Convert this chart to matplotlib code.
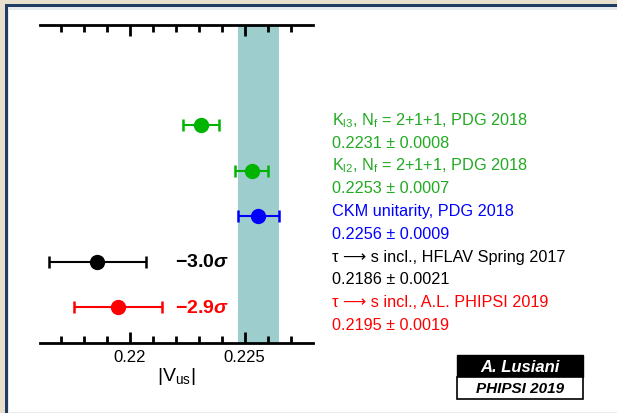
import matplotlib.pyplot as plt
import matplotlib.patches as mpatches
from matplotlib.ticker import MultipleLocator
from matplotlib.transforms import blended_transform_factory

plt.rcParams['mathtext.fontset'] = 'custom'
plt.rcParams['mathtext.rm'] = 'Liberation Sans'
plt.rcParams['mathtext.it'] = 'Liberation Sans:italic'
plt.rcParams['mathtext.bf'] = 'Liberation Sans:bold'
plt.rcParams['mathtext.bfit'] = 'Liberation Sans:bold:italic'
plt.rcParams['font.family'] = ['Liberation Sans', 'DejaVu Sans']

# measurements of |Vus|, top to bottom
names = [r'K$_{\mathrm{l3}}$, N$_{\mathrm{f}}$ = 2+1+1, PDG 2018',
         r'K$_{\mathrm{l2}}$, N$_{\mathrm{f}}$ = 2+1+1, PDG 2018',
         'CKM unitarity, PDG 2018',
         'τ ⟶ s incl., HFLAV Spring 2017',
         'τ ⟶ s incl., A.L. PHIPSI 2019']
values = [0.2231, 0.2253, 0.2256, 0.2186, 0.2195]
errors = [0.0008, 0.0007, 0.0009, 0.0021, 0.0019]
colors = ['#00b400', '#00b400', '#0000ff', '#000000', '#ff0000']
text_colors = ['#22aa22', '#22aa22', '#0000ff', '#000000', '#ff0000']
sigmas = {3: r'$\mathbf{-3.0}\boldsymbol{\sigma}$', 4: r'$\mathbf{-2.9}\boldsymbol{\sigma}$'}

# reference band = CKM unitarity
band_center = 0.2256
band_err = 0.0009

fig = plt.figure(figsize=(6.17, 4.14), dpi=100)
fig.patch.set_facecolor('#e9dfcd')
W, H = 617, 414
# page panel
fig.patches.append(mpatches.Rectangle((5 / W, 0), 1, (H - 5) / H, transform=fig.transFigure,
                                      facecolor='#1f3d63', edgecolor='none', zorder=-10))
fig.patches.append(mpatches.Rectangle((8 / W, 0), 1, (H - 8) / H, transform=fig.transFigure,
                                      facecolor='#e6e9ee', edgecolor='none', zorder=-9))
fig.patches.append(mpatches.Rectangle((9 / W, 1 / H), 1, (H - 12) / H, transform=fig.transFigure,
                                      facecolor='white', edgecolor='none', zorder=-8))

ax = fig.add_axes([40 / W, 70 / H, 273 / W, 318 / H])
ax.set_facecolor('none')

rows = list(range(len(values), 0, -1))

ax.axvspan(band_center - band_err, band_center + band_err, color='#9dcdcd', zorder=1, lw=0)

for y, v, e, c in zip(rows, values, errors, colors):
    ax.errorbar(v, y, xerr=e, fmt='o', color=c, ms=10, lw=1.5, capsize=4.5, capthick=1.8, zorder=3)

for i, s in sigmas.items():
    ax.text(0.22195, rows[i], s, color=colors[i], fontsize=14, va='center', ha='left')

trans = blended_transform_factory(fig.transFigure, ax.transData)
for y, n, v, e, c in zip(rows, names, values, errors, text_colors):
    ax.text(332 / W, y + 0.12, n, color=c, fontsize=11.7, va='center', ha='left',
            transform=trans, clip_on=False)
    ax.text(332 / W, y - 0.38, f'{v:.4f} ± {e:.4f}', color=c, fontsize=11.7, va='center',
            ha='left', transform=trans, clip_on=False)

ax.set_xlim(0.2161, 0.22797)
ax.set_ylim(0.21, 7.2)
ax.set_yticks([])
ax.xaxis.set_major_locator(MultipleLocator(0.005))
ax.xaxis.set_minor_locator(MultipleLocator(0.001))
ax.set_xticks([0.22, 0.225])
ax.set_xticklabels(['0.22', '0.225'])
ax.tick_params(axis='x', which='both', direction='in', top=True, bottom=True, width=2,
               labelsize=12, pad=4)
ax.tick_params(axis='x', which='major', length=8)
ax.tick_params(axis='x', which='minor', length=5)
for s in ['left', 'right']:
    ax.spines[s].set_visible(False)
for s in ['top', 'bottom']:
    ax.spines[s].set_linewidth(2)
ax.set_xlabel(r'|V$_{\mathrm{us}}$|', fontsize=14, labelpad=1)

# author box
fig.patches.append(mpatches.Rectangle((457 / W, 1 - 378 / H), 126 / W, 22 / H,
                                      transform=fig.transFigure, facecolor='black',
                                      edgecolor='black', lw=1, zorder=1))
fig.patches.append(mpatches.Rectangle((457 / W, 1 - 400 / H), 126 / W, 22 / H,
                                      transform=fig.transFigure, facecolor='white',
                                      edgecolor='black', lw=1.2, zorder=1))
fig.text(520 / W, 1 - 367 / H, 'A. Lusiani', color='white', fontsize=12, fontweight='bold',
         style='italic', ha='center', va='center', zorder=5)
fig.text(520 / W, 1 - 389 / H, 'PHIPSI 2019', color='black', fontsize=11, fontweight='bold',
         style='italic', ha='center', va='center', zorder=5)

fig.savefig('out.png', dpi=100, facecolor=fig.get_facecolor())
